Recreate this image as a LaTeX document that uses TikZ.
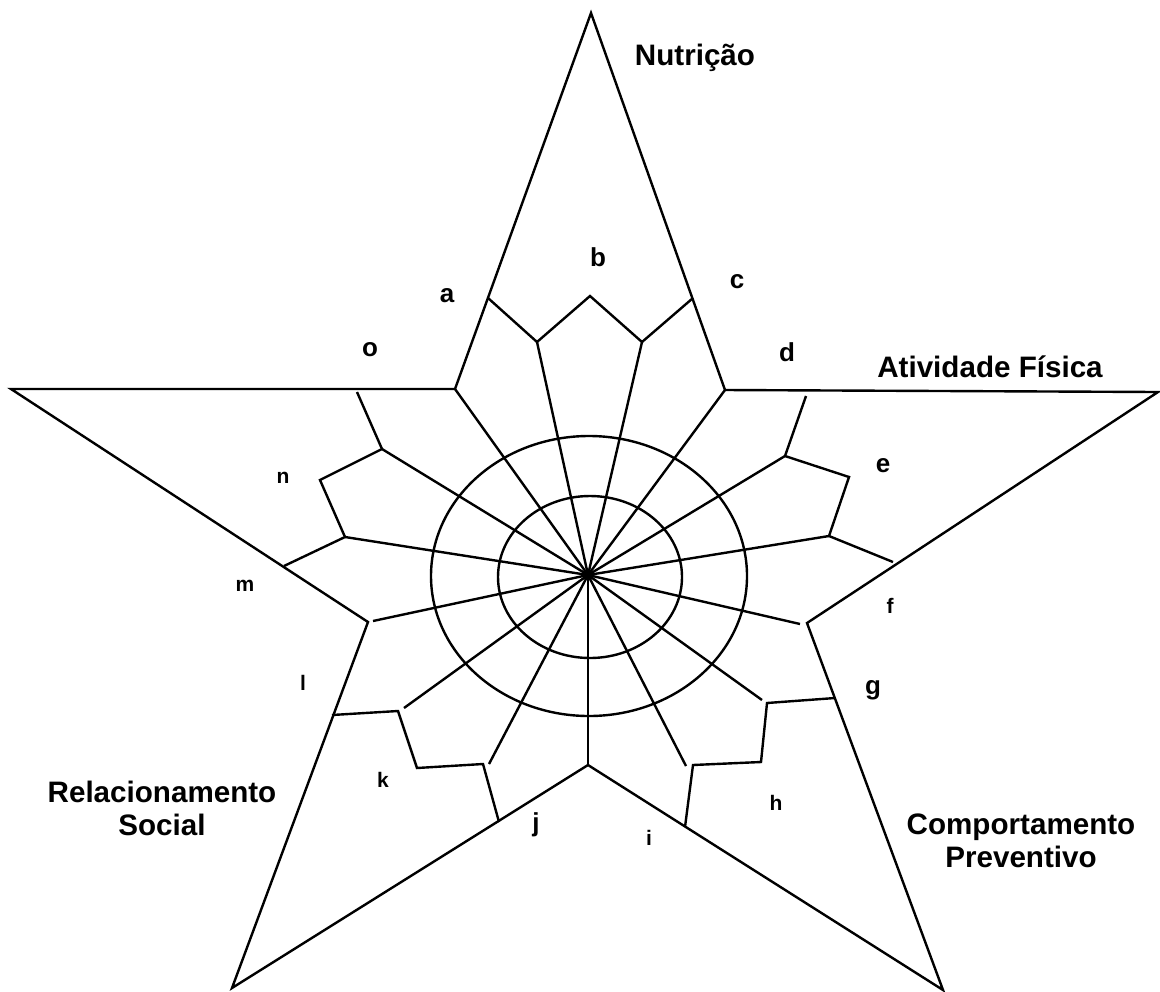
\documentclass[tikz,border=0pt]{standalone}
\usepackage{fontspec}
\setmainfont{Liberation Sans}
\usepackage{tikz}
\usetikzlibrary{positioning}

\begin{document}
\begin{tikzpicture}[x=0.5pt, y=-0.5pt, line width=1.2pt,
  axis/.style={font=\bfseries\fontsize{14.8}{16.5}\selectfont, align=center, inner sep=0pt},
  item/.style={font=\bfseries\fontsize{13}{15}\selectfont, inner sep=0pt},
  itemsm/.style={font=\bfseries\fontsize{10.5}{12}\selectfont, inner sep=0pt}]
  \useasboundingbox (0,0) rectangle (1160,991);

  % star outline
  \coordinate (T)   at (591,13);
  \coordinate (IR)  at (725,390);
  \coordinate (R)   at (1158,392);
  \coordinate (IBR) at (807,623);
  \coordinate (BR)  at (943,990);
  \coordinate (IB)  at (588,765);
  \coordinate (BL)  at (232,988);
  \coordinate (IBL) at (368,622);
  \coordinate (L)   at (11,389);
  \coordinate (IL)  at (455,389);
  \coordinate (C)   at (588,575);
  \draw (T) -- (IR) -- (R) -- (IBR) -- (BR) -- (IB) -- (BL) -- (IBL) -- (L) -- (IL) -- cycle;

  % rings
  \draw (589,576) ellipse [x radius=158, y radius=140];
  \draw (590,577) ellipse [x radius=92, y radius=81];

  % petals
  \draw (488,298) -- (537,342) -- (590,296) -- (642,342) -- (693,298);
  \draw (806,396) -- (785,456) -- (849,477) -- (829,536) -- (893,562);
  \draw (835,698) -- (767,703) -- (761,762) -- (693,765) -- (685,827);
  \draw (332,715) -- (398,711) -- (417,768) -- (483,764) -- (499,822);
  \draw (357,392) -- (382,449) -- (320,480) -- (345,537) -- (284,566);

  % spokes
  \foreach \p in {(455,389),(537,342),(642,342),(725,390),(785,456),(829,536),
                  (800,624),(762,700),(686,766),(588,765),(489,764),(404,708),
                  (373,621),(345,537),(382,449)}
    \draw (C) -- \p;

  % dimensions
  \node[axis] (nut) at (695,58)  {Nutrição};
  \node[axis] (ati) at (990,367) {Atividade Física};
  \node[axis] (com) at (1021,841) {Comportamento\\Preventivo};
  \node[axis] (rel) at (162,808) {Relacionamento\\Social};

  % items
  \node[item]   (la) at (447,296) {a};
  \node[item]   (lb) at (598,257) {b};
  \node[item]   (lc) at (737,282) {c};
  \node[item]   (ld) at (787,352) {d};
  \node[item]   (le) at (883,466) {e};
  \node[itemsm] (lf) at (890,606) {f};
  \node[item]   (lg) at (873,690) {g};
  \node[itemsm] (lh) at (776,803) {h};
  \node[itemsm] (li) at (649,838) {i};
  \node[item]   (lj) at (536,825) {j};
  \node[itemsm] (lk) at (383,780) {k};
  \node[itemsm] (ll) at (303,683) {l};
  \node[itemsm] (lm) at (245,586) {m};
  \node[itemsm] (ln) at (283,478) {n};
  \node[item]   (lo) at (370,350) {o};
\end{tikzpicture}
\end{document}
